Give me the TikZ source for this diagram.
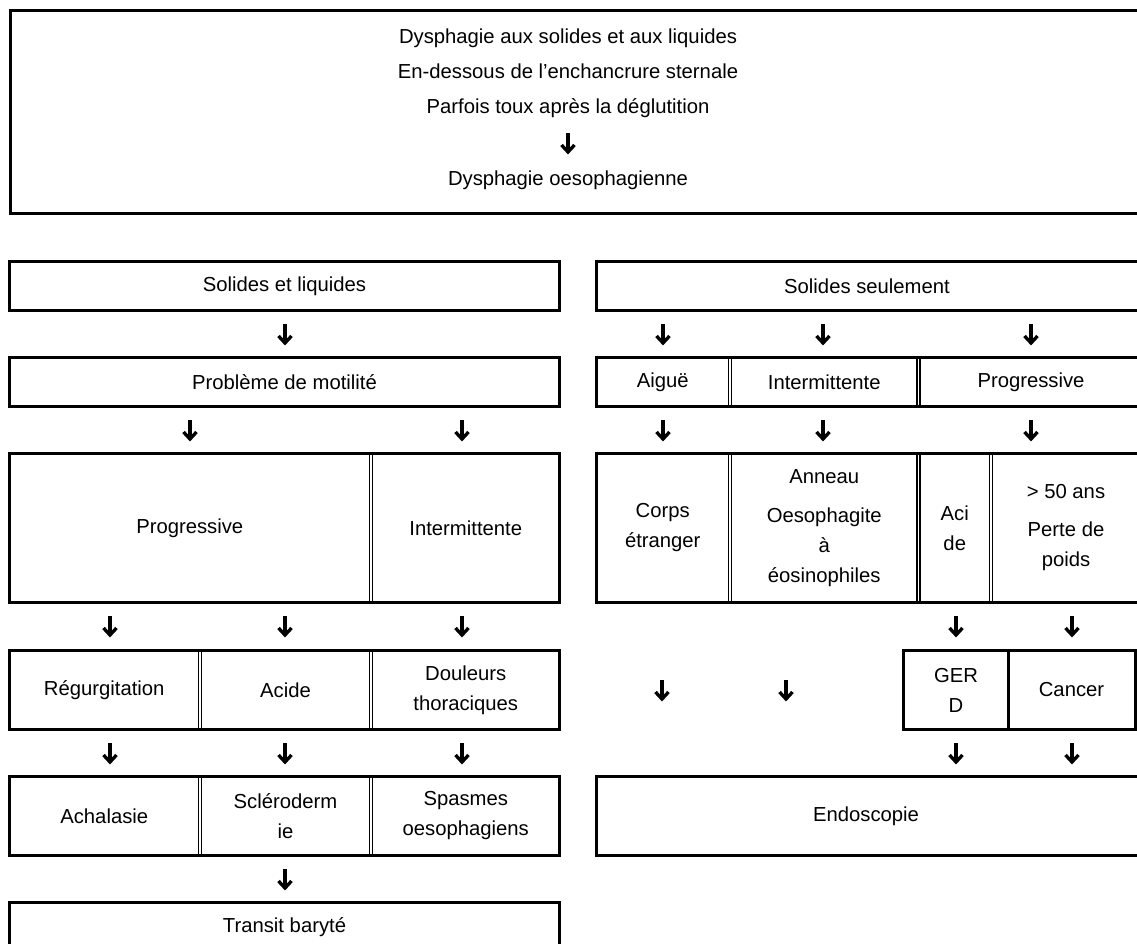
\documentclass[tikz,border=0pt]{standalone}
\usepackage{fontspec}
\setmainfont{Liberation Sans}
\usetikzlibrary{fit}
\begin{document}
\begin{tikzpicture}[x=0.75pt,y=-0.75pt,
  cell/.style={draw, line width=0.8pt, inner sep=0pt},
  lbl/.style={inner sep=0pt, align=center,
    font=\fontsize{15.2pt}{22.5pt}\selectfont},
  txt/.style={inner sep=0pt, align=center, font=\fontsize{15.2pt}{26.25pt}\selectfont},
  frame/.style={line width=1.9pt},
  thickdiv/.style={line width=1.9pt},
  darrow/.pic={
    \draw[line width=2.5pt] (0,-10)--(0,8);
    \draw[line width=2.5pt, line join=miter] (-6.5,2)--(0,9)--(6.5,2);
  }]
\useasboundingbox (0,0) rectangle (1137,944);
\clip (0,0) rectangle (1137,944);

% ---------- top box ----------
\node[draw=none, inner sep=0pt, fit={(11,11) (1141,213)}] (top) {};
\draw[frame] (top.north west) rectangle (top.south east);
\node[txt] (t1) at (568,73) {Dysphagie aux solides et aux liquides\\En-dessous de l’enchancrure sternale\\Parfois toux après la déglutition};
\pic at (568,143) {darrow};
\node[txt] (t2) at (568,180) {Dysphagie oesophagienne};

% ---------- left column ----------
\node[cell, fit={(10,262) (559,310)}] (solL) {};
\draw[frame] (solL.north west) rectangle (solL.south east);
\node[lbl] (solLt) at (solL.center) {Solides et liquides};
\pic at (285,334) {darrow};

\node[cell, fit={(10,358) (559,406)}] (motil) {};
\draw[frame] (motil.north west) rectangle (motil.south east);
\node[lbl] (motilt) at (motil.center) {Problème de motilité};
\pic at (190,430) {darrow};
\pic at (462,430) {darrow};

\node[cell, fit={(10,454) (369.5,602)}] (progL) {};
\node[cell, fit={(372.5,454) (559,602)}] (interL) {};
\draw[frame] (progL.north west) rectangle (interL.south east);
\node[lbl] (progLt) at (progL.center) {Progressive};
\node[lbl] (interLt) at (interL.center) {Intermittente};
\pic at (110,626) {darrow};
\pic at (285,626) {darrow};
\pic at (462,626) {darrow};

\node[cell, fit={(10,651) (198.5,729)}] (regurg) {};
\node[cell, fit={(201.5,651) (369.5,729)}] (acide) {};
\node[cell, fit={(372.5,651) (559,729)}] (doul) {};
\draw[frame] (regurg.north west) rectangle (doul.south east);
\node[lbl] (regurgt) at (regurg.center) {Régurgitation};
\node[lbl] (acidet) at (acide.center) {Acide};
\node[lbl] (doult) at (doul.center) {Douleurs\\thoraciques};
\pic at (110,753) {darrow};
\pic at (285,753) {darrow};
\pic at (462,753) {darrow};

\node[cell, fit={(10,777) (198.5,855)}] (achal) {};
\node[cell, fit={(201.5,777) (369.5,855)}] (sclero) {};
\node[cell, fit={(372.5,777) (559,855)}] (spasm) {};
\draw[frame] (achal.north west) rectangle (spasm.south east);
\node[lbl] (achalt) at (achal.center) {Achalasie};
\node[lbl] (sclerot) at (sclero.center) {Scléroderm\\ie};
\node[lbl] (spasmt) at (spasm.center) {Spasmes\\oesophagiens};
\pic at (285,879) {darrow};

\node[cell, fit={(10,903) (559,951)}] (transit) {};
\draw[frame] (transit.north west) rectangle (transit.south east);
\node[lbl] (transitt) at (transit.center) {Transit baryté};

% ---------- right column ----------
\node[cell, fit={(597,262) (1141,310)}] (solR) {};
\draw[frame] (solR.north west) rectangle (solR.south east);
\node[lbl] (solRt) at (867,286) {Solides seulement};
\pic at (663,334) {darrow};
\pic at (823,334) {darrow};
\pic at (1031,334) {darrow};

\node[cell, fit={(597,358) (728.5,406)}] (aigue) {};
\node[cell, fit={(731.5,358) (917,406)}] (interR) {};
\node[cell, fit={(920,358) (1141,406)}] (progR) {};
\draw[frame] (aigue.north west) rectangle (progR.south east);
\node[lbl] (aiguet) at (aigue.center) {Aiguë};
\node[lbl] (interRt) at (interR.center) {Intermittente};
\node[lbl] (progRt) at (1031,382) {Progressive};
\pic at (663,430) {darrow};
\pic at (823,430) {darrow};
\pic at (1031,430) {darrow};

\node[cell, fit={(597,454) (728.5,602)}] (corps) {};
\node[cell, fit={(731.5,454) (917,602)}] (anneau) {};
\node[cell, fit={(920,454) (989.5,602)}] (acidR) {};
\node[cell, fit={(992.5,454) (1141,602)}] (age) {};
\draw[frame] (corps.north west) rectangle (age.south east);
\node[lbl] (corpst) at (corps.center) {Corps\\étranger};
\node[lbl] (anneaut) at (anneau.center) {Anneau\\[7pt]Oesophagite\\à\\éosinophiles};
\node[lbl] (acidRt) at (acidR.center) {Aci\\de};
\node[lbl] (aget) at (1066,528) {> 50 ans\\[6pt]Perte de\\poids};
\pic at (956,626) {darrow};
\pic at (1072,626) {darrow};

\pic at (662,690) {darrow};
\pic at (786,690) {darrow};
\node[cell, fit={(904,651) (1008,729)}] (gerd) {};
\node[cell, fit={(1008,651) (1135,729)}] (cancer) {};
\draw[frame] (gerd.north west) rectangle (cancer.south east);
\draw[thickdiv] (gerd.north east) -- (gerd.south east);
\node[lbl] (gerdt) at (gerd.center) {GER\\D};
\node[lbl] (cancert) at (cancer.center) {Cancer};
\pic at (956,753) {darrow};
\pic at (1072,753) {darrow};

\node[cell, fit={(597,777) (1141,855)}] (endo) {};
\draw[frame] (endo.north west) rectangle (endo.south east);
\node[lbl] (endot) at (866,816) {Endoscopie};
\end{tikzpicture}
\end{document}
